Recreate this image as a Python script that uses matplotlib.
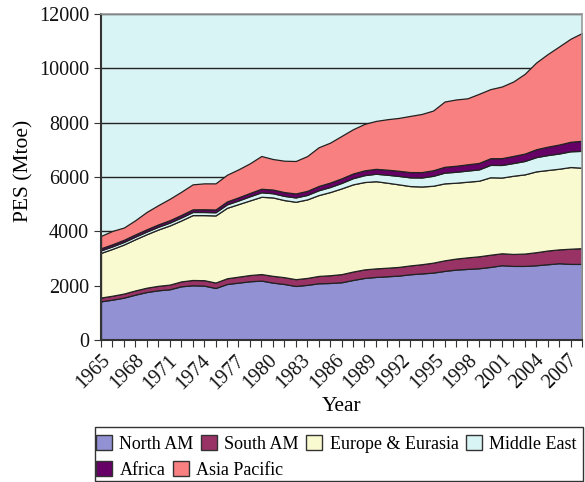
import matplotlib
matplotlib.use('Agg')
import matplotlib.pyplot as plt
import matplotlib.transforms as mtransforms
from matplotlib.patches import Patch, Rectangle

plt.rcParams['font.family'] = ['Liberation Serif', 'DejaVu Serif']

years = list(range(1965, 2008))
north_am = [1424, 1486, 1560, 1671, 1767, 1830, 1867, 1977, 2014, 2002,
            1915, 2062, 2112, 2162, 2187, 2112, 2062, 1989, 2030, 2088,
            2099, 2125, 2210, 2284, 2321, 2346, 2371, 2420, 2450, 2482,
            2543, 2592, 2617, 2641, 2690, 2752, 2727, 2727, 2752, 2789,
            2826, 2801, 2800]
south_am = [140, 145, 150, 155, 160, 165, 172, 180, 195, 200,
            200, 210, 220, 230, 240, 250, 250, 250, 255, 270,
            285, 300, 310, 315, 315, 315, 320, 325, 340, 365,
            390, 405, 425, 440, 450, 440, 440, 455, 480, 505,
            510, 560, 580]
europe = [1643, 1723, 1805, 1885, 1969, 2073, 2177, 2243, 2388, 2395,
          2470, 2594, 2670, 2746, 2845, 2886, 2838, 2849, 2890, 2976,
          3061, 3155, 3209, 3215, 3209, 3128, 3038, 2921, 2860, 2831,
          2833, 2792, 2785, 2782, 2850, 2788, 2879, 2915, 2975, 2963,
          2969, 3006, 2962]
middle_east = [95, 95, 96, 97, 99, 102, 106, 110, 115, 115,
               117, 127, 135, 153, 165, 155, 155, 160, 165, 178,
               187, 202, 228, 254, 275, 294, 310, 321, 332, 365,
               395, 403, 410, 417, 455, 463, 468, 493, 525, 550,
               560, 580, 620]
africa = [75, 77, 79, 81, 83, 86, 89, 93, 97, 100,
          103, 108, 115, 122, 130, 135, 140, 145, 150, 157,
          163, 168, 172, 176, 180, 186, 190, 194, 198, 205,
          215, 222, 230, 238, 245, 252, 262, 272, 290, 310,
          330, 350, 370]
asia_pacific = [456, 490, 450, 523, 640, 709, 787, 853, 920, 954,
                961, 982, 1030, 1091, 1206, 1124, 1155, 1196, 1280, 1425,
                1469, 1561, 1629, 1709, 1764, 1858, 1946, 2068, 2140, 2198,
                2402, 2440, 2430, 2543, 2544, 2636, 2739, 2936, 3193, 3408,
                3611, 3793, 3968]

names = ['North AM', 'South AM', 'Europe & Eurasia', 'Middle East', 'Africa', 'Asia Pacific']
colors = ['#9191d3', '#993366', '#fafad0', '#d9f4f4', '#660066', '#f88080']
yticks = [0, 2000, 4000, 6000, 8000, 10000, 12000]

W, H = 585, 482
fig = plt.figure(figsize=(W / 100, H / 100), dpi=100)
ax = fig.add_axes([101 / W, 142 / H, 481 / W, 326 / H])
ax.set_facecolor('#d9f4f4')

ax.stackplot(years, north_am, south_am, europe, middle_east, africa, asia_pacific,
             colors=colors, edgecolor='#222222', linewidth=0.9, zorder=2)

ax.set_xlim(years[0], years[-1])
ax.set_ylim(yticks[0], yticks[-1])
ax.set_yticks(yticks)
ax.set_yticklabels([str(v) for v in yticks])
ax.yaxis.grid(True, color='#222222', linewidth=1.0)
ax.set_axisbelow(True)

ax.set_xticks(years)
ax.set_xticklabels([str(y) if (y - years[0]) % 3 == 0 else '' for y in years],
                   rotation=45, ha='right', rotation_mode='anchor')

ax.tick_params(axis='both', direction='out', length=5, color='#333333',
               labelsize=14.5, labelcolor='#111111')
ax.tick_params(axis='x', pad=3)

# labels are packed slightly tighter than the ticks (as in the original)
n = len(years) - 1
for i, lab in enumerate(ax.get_xticklabels()):
    dx = -(i / n) * 14 / 100.0
    lab.set_transform(lab.get_transform() +
                      mtransforms.ScaledTranslation(dx, 0, fig.dpi_scale_trans))

for s in ['left', 'bottom']:
    ax.spines[s].set_color('#333333')
    ax.spines[s].set_linewidth(1.5)
for s in ['top', 'right']:
    ax.spines[s].set_color('#999999')
    ax.spines[s].set_linewidth(1.2)

ax.set_xlabel('Year', fontsize=15.5, va='top')
ax.xaxis.set_label_coords(0.5, -0.176)
ax.set_ylabel('PES (Mtoe)', fontsize=15.5)
ax.yaxis.set_label_coords(-0.14, 0.52)

handles = [Patch(facecolor=c, edgecolor='#333333', linewidth=1) for c in colors]
common = dict(loc='center left', frameon=False, fontsize=13, handlelength=0.9,
              handleheight=0.9, handletextpad=0.4, columnspacing=0.4,
              borderpad=0, borderaxespad=0)
fig.legend(handles[:4], names[:4], ncol=4,
           bbox_to_anchor=(96 / W, 1 - 444 / H), **common)
fig.legend(handles[4:], names[4:], ncol=2,
           bbox_to_anchor=(96 / W, 1 - 470 / H), **common)
fig.add_artist(Rectangle((95 / W, 1 / H), (583 - 95) / W, (481 - 427) / H,
                         transform=fig.transFigure, fill=False,
                         edgecolor='#333333', linewidth=1))

fig.savefig('out.png', dpi=100)
